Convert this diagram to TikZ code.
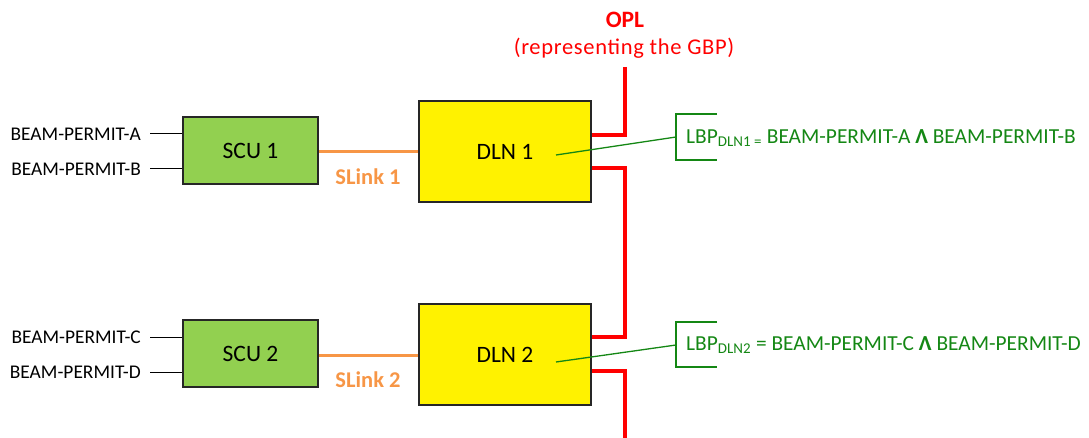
\documentclass[tikz,border=0pt]{standalone}
\usepackage{fontspec}
\setmainfont{Carlito}
\begin{document}
\begin{tikzpicture}[x=1pt,y=-1pt,
  unit/.style={draw=black!85,line width=2pt,inner sep=0pt,font=\fontsize{23.5}{26}\selectfont},
  scubox/.style={unit,fill=scugreen,minimum width=135pt,minimum height=67pt},
  dlnbox/.style={unit,fill=yellow,minimum width=172pt,minimum height=101pt},
  inlabel/.style={anchor=east,inner sep=0pt,font=\fontsize{19.4}{22}\selectfont},
  inwire/.style={line width=1pt,black},
  slink/.style={line width=3pt,slinkorange},
  slinklabel/.style={text=slinkorange,font=\bfseries\fontsize{22.5}{25}\selectfont,inner sep=0pt},
  opl/.style={line width=4pt,red},
  lbpwire/.style={line width=1.3pt,lbpgreen},
  lbptext/.style={anchor=west,inner sep=0pt,text=lbpgreen,font=\fontsize{21.4}{24}\selectfont}
]
\definecolor{scugreen}{RGB}{146,208,80}
\definecolor{slinkorange}{RGB}{247,150,70}
\definecolor{lbpgreen}{RGB}{20,135,20}
\useasboundingbox (0,0) rectangle (1089,438);

% OPL heading
\node[text=red,font=\bfseries\fontsize{23.5}{26}\selectfont,inner sep=0pt] (opl) at (625,20) {OPL};
\node[text=red,font=\addfontfeatures{LetterSpace=3}\fontsize{22.5}{26}\selectfont,inner sep=0pt] (gbp) at (624,48) {(representing the GBP)};

% units
\node[scubox] (scu1) at (250.5,150.5) {SCU 1};
\node[dlnbox] (dln1) at (505,151.5) {DLN 1};
\node[scubox] (scu2) at (250.5,353.5) {SCU 2};
\node[dlnbox] (dln2) at (505,354.5) {DLN 2};

% beam permit inputs
\node[inlabel] (bpa) at (141,134) {BEAM-PERMIT-A};
\node[inlabel] (bpb) at (141,169) {BEAM-PERMIT-B};
\node[inlabel] (bpc) at (141,337) {BEAM-PERMIT-C};
\node[inlabel] (bpd) at (141,372) {BEAM-PERMIT-D};
\coordinate (ia) at (150,134);
\coordinate (ib) at (150,169);
\coordinate (ic) at (150,337);
\coordinate (id) at (150,372);
\draw[inwire] (ia) -- (ia -| scu1.west);
\draw[inwire] (ib) -- (ib -| scu1.west);
\draw[inwire] (ic) -- (ic -| scu2.west);
\draw[inwire] (id) -- (id -| scu2.west);

% SLinks
\draw[slink] (scu1.east |- 0,152) -- (dln1.west |- 0,152);
\draw[slink] (scu2.east |- 0,355) -- (dln2.west |- 0,355);
\node[slinklabel] (sl1) at (368,177) {SLink 1};
\node[slinklabel] (sl2) at (368,380) {SLink 2};

% OPL chain
\coordinate (otop) at (625,67);
\coordinate (obot) at (625,438);
\draw[opl] (otop) |- (dln1.east |- 0,135);
\draw[opl] (dln1.east |- 0,168) -| (625,337) -- (dln2.east |- 0,337);
\draw[opl] (dln2.east |- 0,371) -| (obot);

% LBP annotations
\coordinate (b1) at (676,137);
\coordinate (b2) at (676,345);
\draw[lbpwire] (556,155) -- (b1);
\draw[lbpwire] (717,114) -- (676,114) -- (676,160) -- (717,160);
\draw[lbpwire] (556,362) -- (b2);
\draw[lbpwire] (717,322) -- (676,322) -- (676,367) -- (717,367);
\node[lbptext] (lbp1) at (686,138) {LBP\textsubscript{DLN1 =} BEAM-PERMIT-A \textbf{Λ} BEAM-PERMIT-B};
\node[lbptext] (lbp2) at (686,345) {LBP\textsubscript{DLN2} = BEAM-PERMIT-C \textbf{Λ} BEAM-PERMIT-D};
\end{tikzpicture}
\end{document}
